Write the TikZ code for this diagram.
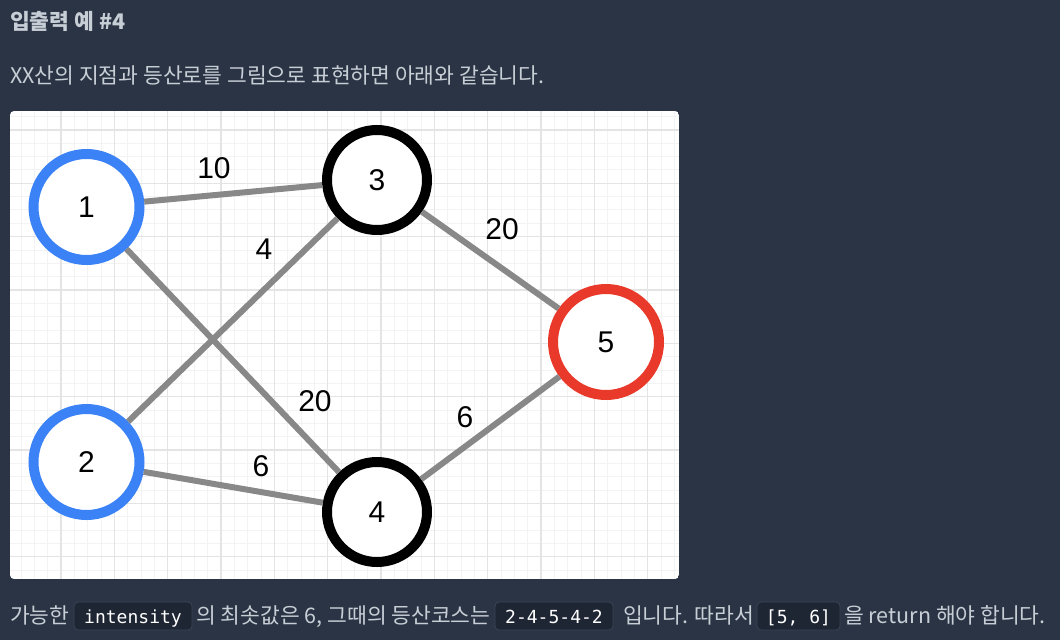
\documentclass[tikz,border=0pt]{standalone}
\usepackage{fontspec}
\setmainfont{Noto Sans CJK KR}
\newfontfamily\arialf{Liberation Sans}
\newfontfamily\monof{DejaVu Sans Mono}
\definecolor{bg}{HTML}{2A3444}
\definecolor{txt}{HTML}{C8CED6}
\definecolor{chipbg}{HTML}{1E2533}
\definecolor{chipline}{HTML}{3A4556}
\definecolor{gminor}{HTML}{F3F3F3}
\definecolor{gmajor}{HTML}{E4E4E4}
\definecolor{nblue}{HTML}{3B82F6}
\definecolor{nred}{HTML}{E8392A}
\definecolor{edgegray}{HTML}{888888}
\tikzset{
  prose/.style={anchor=base west, inner sep=0pt, text=txt, font=\fontsize{21.5}{26}\selectfont},
  chip/.style={draw=chipline, fill=chipbg, rounded corners=4pt, line width=0.8pt,
    minimum height=28pt, inner sep=0pt, text=white, text height=14pt, text depth=0pt,
    font=\monof\fontsize{18}{22}\selectfont},
  vert/.style={circle, draw, fill=white, line width=10pt, inner sep=0pt,
    font=\arialf\fontsize{30}{34}\selectfont},
  bluev/.style={vert, draw=nblue, minimum size=106pt},
  redv/.style={vert, draw=nred, minimum size=106pt},
  blackv/.style={vert, draw=black, minimum size=100pt},
  trail/.style={draw=edgegray, line width=6pt},
  wlabel/.style={inner sep=0pt, font=\arialf\fontsize{30}{34}\selectfont, text=black},
  gridminor/.style={draw=gminor, line width=1pt},
  gridmajor/.style={draw=gmajor, line width=1.3pt}
}
\begin{document}
\begin{tikzpicture}[x=1pt,y=-1pt]
\useasboundingbox (0,0) rectangle (1060,640);
\fill[bg] (0,0) rectangle (1060,640);

% heading and prose
\node[prose] (head) at (10,29) {\bfseries 입출력 예 \#4};
\node[prose] (intro) at (10,83) {XX산의 지점과 등산로를 그림으로 표현하면 아래와 같습니다.};

% panel with grid
\begin{scope}
  \clip[rounded corners=4pt] (10,111) rectangle (679,579);
  \fill[white] (10,111) rectangle (679,579);
  \foreach \i in {0,...,50} { \draw[gridminor] ({7.67+13.3333*\i},111) -- ++(0,468); }
  \foreach \j in {7,...,41} { \draw[gridminor] (10,{23.33+13.3333*\j}) -- ++(669,0); }
  \foreach \i in {0,...,12} { \draw[gridmajor] ({7.67+53.3333*\i},111) -- ++(0,468); }
  \foreach \j in {2,...,10} { \draw[gridmajor] (10,{23.33+53.3333*\j}) -- ++(669,0); }
\end{scope}

% vertices
\node[bluev] (n1) at (86.5,207) {1};
\node[bluev] (n2) at (86.5,462) {2};
\node[blackv] (n3) at (377,180) {3};
\node[blackv] (n4) at (377,512) {4};
\node[redv] (n5) at (606,342) {5};

% trails
\draw[trail] (n1) -- (n3);
\draw[trail] (n1) -- (n4);
\draw[trail] (n2) -- (n3);
\draw[trail] (n2) -- (n4);
\draw[trail] (n3) -- (n5);
\draw[trail] (n4) -- (n5);

% weights
\node[wlabel] (w13) at (214,168) {10};
\node[wlabel] (w23) at (264,249) {4};
\node[wlabel] (w35) at (502,229) {20};
\node[wlabel] (w14) at (315,401) {20};
\node[wlabel] (w45) at (465,417) {6};
\node[wlabel] (w24) at (261,466) {6};

% bottom line
\node[prose] (b1) at (10,623.5) {가능한};
\node[chip, minimum width=118pt] (c1) at (133,616) {intensity};
\node[prose] (b2) at (196,623.5) {의 최솟값은 6, 그때의 등산코스는};
\node[chip, minimum width=118pt] (c2) at (554,616) {2-4-5-4-2};
\node[prose] (b3) at (623,623.5) {입니다. 따라서};
\node[chip, minimum width=83pt] (c3) at (798.5,616) {[5, 6]};
\node[prose] (b4) at (844,623.5) {을 return 해야 합니다.};
\end{tikzpicture}
\end{document}
